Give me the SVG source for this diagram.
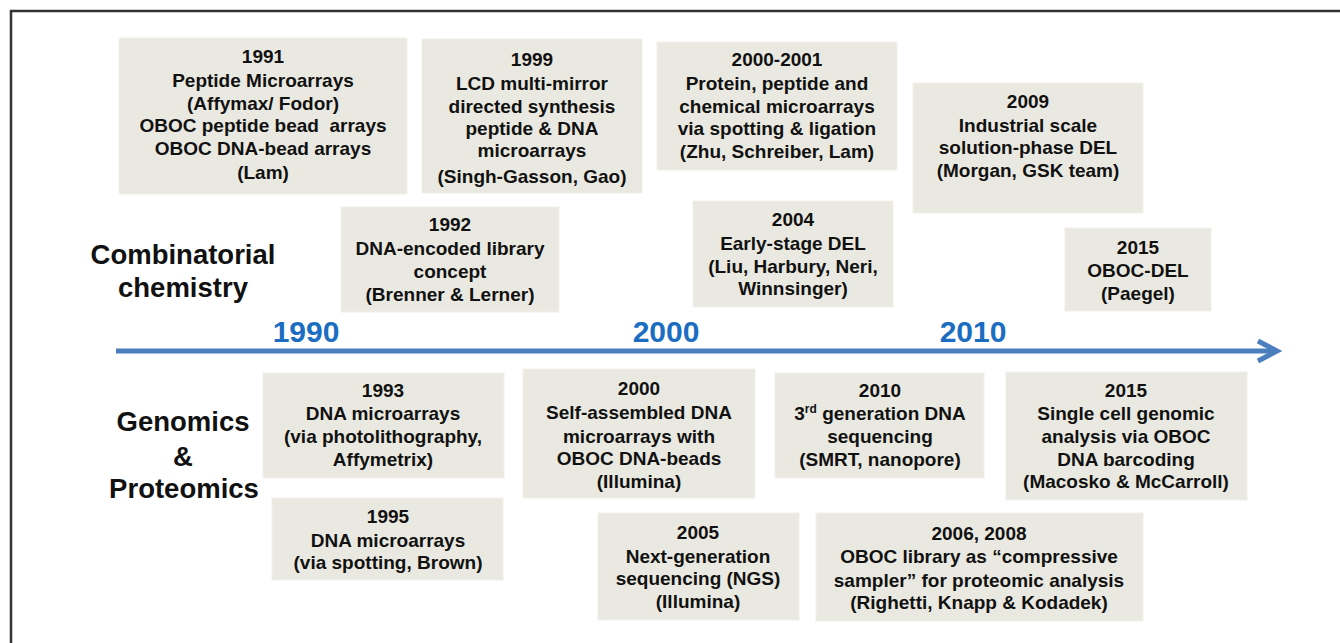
<svg xmlns="http://www.w3.org/2000/svg" width="1340" height="643" viewBox="0 0 1340 643">
<style>
.box{fill:#EAE9E1;stroke:#F1F0EA;stroke-width:1}
.t{font-family:"Liberation Sans",Arial,sans-serif;font-weight:bold;font-size:19px;fill:#111;text-anchor:middle}
.cat{font-family:"Liberation Sans",Arial,sans-serif;font-weight:bold;font-size:27.5px;fill:#111;text-anchor:middle}
.yr{font-family:"Liberation Sans",Arial,sans-serif;font-weight:bold;font-size:30px;fill:#1B6DC1;text-anchor:middle}
.ax{fill:none;stroke:#4A7EBE;stroke-width:5}
</style>
<rect x="0" y="0" width="1340" height="643" fill="#fff"/>
<path d="M11,660 V11 H1345" fill="none" stroke="#333" stroke-width="2.5"/>

<g id="labels">
<text class="cat" x="183" y="264">Combinatorial</text>
<text class="cat" x="183" y="297">chemistry</text>
<text class="cat" x="183" y="431">Genomics</text>
<text class="cat" x="183" y="466">&amp;</text>
<text class="cat" x="184" y="498">Proteomics</text>
<text class="yr" x="306" y="342">1990</text>
<text class="yr" x="666" y="342">2000</text>
<text class="yr" x="973" y="342">2010</text>
</g>

<g id="connectors">
<line class="ax" x1="116" y1="351" x2="1275" y2="351"/>
<polyline class="ax" points="1258,341 1277,351 1258,361"/>
</g>

<g id="n1991">
<rect class="box" x="119" y="38" width="288" height="156"/>
<text class="t" xml:space="preserve"><tspan x="263" y="63">1991</tspan><tspan x="263" y="87">Peptide Microarrays</tspan><tspan x="263" y="110">(Affymax/ Fodor)</tspan><tspan x="263" y="132">OBOC peptide bead  arrays</tspan><tspan x="263" y="155">OBOC DNA-bead arrays</tspan><tspan x="263" y="179">(Lam)</tspan></text>
</g>

<g id="n1999">
<rect class="box" x="422" y="39" width="220" height="154"/>
<text class="t"><tspan x="532" y="66">1999</tspan><tspan x="532" y="90">LCD multi-mirror</tspan><tspan x="532" y="113">directed synthesis</tspan><tspan x="532" y="135">peptide &amp; DNA</tspan><tspan x="532" y="157">microarrays</tspan><tspan x="532" y="183">(Singh-Gasson, Gao)</tspan></text>
</g>

<g id="n2000_2001">
<rect class="box" x="657" y="42" width="240" height="128"/>
<text class="t"><tspan x="777" y="66">2000-2001</tspan><tspan x="777" y="90">Protein, peptide and</tspan><tspan x="777" y="113">chemical microarrays</tspan><tspan x="777" y="135">via spotting &amp; ligation</tspan><tspan x="777" y="158">(Zhu, Schreiber, Lam)</tspan></text>
</g>

<g id="n2009">
<rect class="box" x="913" y="83" width="230" height="130"/>
<text class="t"><tspan x="1028" y="108">2009</tspan><tspan x="1028" y="132">Industrial scale</tspan><tspan x="1028" y="154">solution-phase DEL</tspan><tspan x="1028" y="177">(Morgan, GSK team)</tspan></text>
</g>

<g id="n1992">
<rect class="box" x="341" y="207" width="218" height="105"/>
<text class="t"><tspan x="450" y="231">1992</tspan><tspan x="450" y="255">DNA-encoded library</tspan><tspan x="450" y="278">concept</tspan><tspan x="450" y="301">(Brenner &amp; Lerner)</tspan></text>
</g>

<g id="n2004">
<rect class="box" x="693" y="201" width="200" height="106"/>
<text class="t"><tspan x="793" y="226">2004</tspan><tspan x="793" y="250">Early-stage DEL</tspan><tspan x="793" y="273">(Liu, Harbury, Neri,</tspan><tspan x="793" y="295">Winnsinger)</tspan></text>
</g>

<g id="n2015del">
<rect class="box" x="1065" y="228" width="146" height="83"/>
<text class="t"><tspan x="1138" y="254">2015</tspan><tspan x="1138" y="277">OBOC-DEL</tspan><tspan x="1138" y="300">(Paegel)</tspan></text>
</g>

<g id="n1993">
<rect class="box" x="263" y="373" width="241" height="105"/>
<text class="t"><tspan x="383" y="397">1993</tspan><tspan x="383" y="420">DNA microarrays</tspan><tspan x="383" y="443">(via photolithography,</tspan><tspan x="383" y="466">Affymetrix)</tspan></text>
</g>

<g id="n1995">
<rect class="box" x="272" y="498" width="231" height="82"/>
<text class="t"><tspan x="388" y="523">1995</tspan><tspan x="388" y="547">DNA microarrays</tspan><tspan x="388" y="569">(via spotting, Brown)</tspan></text>
</g>

<g id="n2000">
<rect class="box" x="523" y="369" width="232" height="129"/>
<text class="t"><tspan x="639" y="395">2000</tspan><tspan x="639" y="419">Self-assembled DNA</tspan><tspan x="639" y="443">microarrays with</tspan><tspan x="639" y="465">OBOC DNA-beads</tspan><tspan x="639" y="488">(Illumina)</tspan></text>
</g>

<g id="n2010">
<rect class="box" x="775" y="373" width="209" height="105"/>
<text class="t"><tspan x="880" y="397">2010</tspan><tspan x="880" y="420">3<tspan font-size="12" dy="-7">rd</tspan><tspan dy="7"> generation DNA</tspan></tspan><tspan x="880" y="443">sequencing</tspan><tspan x="880" y="466">(SMRT, nanopore)</tspan></text>
</g>

<g id="n2015">
<rect class="box" x="1006" y="372" width="241" height="128"/>
<text class="t"><tspan x="1126" y="397">2015</tspan><tspan x="1126" y="420">Single cell genomic</tspan><tspan x="1126" y="443">analysis via OBOC</tspan><tspan x="1126" y="466">DNA barcoding</tspan><tspan x="1126" y="488">(Macosko &amp; McCarroll)</tspan></text>
</g>

<g id="n2005">
<rect class="box" x="598" y="513" width="201" height="107"/>
<text class="t"><tspan x="698" y="539">2005</tspan><tspan x="698" y="563">Next-generation</tspan><tspan x="698" y="585">sequencing (NGS)</tspan><tspan x="698" y="608">(Illumina)</tspan></text>
</g>

<g id="n2006">
<rect class="box" x="816" y="513" width="327" height="108"/>
<text class="t"><tspan x="979" y="540">2006, 2008</tspan><tspan x="979" y="563">OBOC library as “compressive</tspan><tspan x="979" y="587">sampler” for proteomic analysis</tspan><tspan x="979" y="609">(Righetti, Knapp &amp; Kodadek)</tspan></text>
</g>
</svg>
